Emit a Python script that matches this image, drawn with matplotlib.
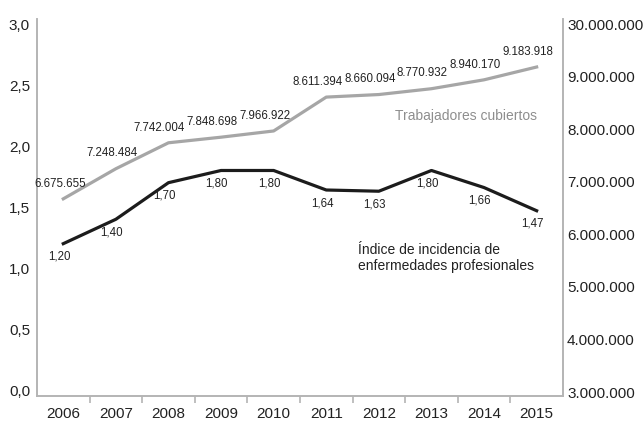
import matplotlib
matplotlib.use("Agg")
import matplotlib.pyplot as plt
from matplotlib.ticker import FixedLocator, NullLocator

plt.rcParams['font.family'] = ['Liberation Sans', 'DejaVu Sans']

years = ["2006", "2007", "2008", "2009", "2010", "2011", "2012", "2013", "2014", "2015"]
incidence = [1.20, 1.40, 1.70, 1.80, 1.80, 1.64, 1.63, 1.80, 1.66, 1.47]
workers = [6675655, 7248484, 7742004, 7848698, 7966922, 8611394, 8660094, 8770932, 8940170, 9183918]

left_ticks = [0.0, 0.5, 1.0, 1.5, 2.0, 2.5, 3.0]
left_tick_labels = ["0,0", "0,5", "1,0", "1,5", "2,0", "2,5", "3,0"]
right_ticks = [3e6, 4e6, 5e6, 6e6, 7e6, 8e6, 9e6, 10e6]
right_tick_labels = ["3.000.000", "4.000.000", "5.000.000", "6.000.000",
                     "7.000.000", "8.000.000", "9.000.000", "30.000.000"]

workers_name = "Trabajadores cubiertos"
incidence_name = "Índice de incidencia de\nenfermedades profesionales"

GRAY_LINE = "#a6a6a6"
BLACK_LINE = "#1c1c1c"
SPINE = "#b4b4b4"
TEXT = "#222222"


def fmt_es_int(v):
    return f"{v:,}".replace(",", ".")


def fmt_es_dec(v):
    return f"{v:.2f}".replace(".", ",")


fig = plt.figure(figsize=(6.43, 4.23), dpi=100)
ax = fig.add_axes([0.0575, 0.0638, 0.818, 0.891])
ax2 = ax.twinx()

x = list(range(len(years)))

ax.set_xlim(-0.5, len(years) - 0.5)
ax.set_ylim(-0.049, 3.041)
ax2.set_ylim(2.924e6, 10.095e6)

# Incidence index on the left axis
ax.plot(x, incidence, color=BLACK_LINE, lw=2.3, solid_joinstyle="round", zorder=3)
for xi, v in zip(x, incidence):
    ax.annotate(fmt_es_dec(v), (xi, v), xytext=(-3, -9.5), textcoords="offset points",
                ha="center", va="center", fontsize=8.3, color=TEXT)

# Covered workers on the right axis
ax2.plot(x, workers, color=GRAY_LINE, lw=2.3, solid_joinstyle="round", zorder=3)
for i, (xi, v) in enumerate(zip(x, workers)):
    dx = -2.5 if i < 2 else -6.5
    ax2.annotate(fmt_es_int(v), (xi, v), xytext=(dx, 11), textcoords="offset points",
                 ha="center", va="center", fontsize=8.3, color=TEXT)

# Series names
ax.text(537, 423 - 116, workers_name, transform=None, ha="right", va="center",
        fontsize=10, color="#8e8e8e")
ax.text(358, 423 - 258, incidence_name, transform=None, ha="left", va="center",
        fontsize=10, color=TEXT, linespacing=1.15)

# Axes styling
for a in (ax, ax2):
    a.spines["top"].set_visible(False)
    for s in ("left", "right", "bottom"):
        a.spines[s].set_color(SPINE)
        a.spines[s].set_linewidth(1.2)

ax.yaxis.set_major_locator(FixedLocator(left_ticks))
ax.set_yticklabels(left_tick_labels)
ax.tick_params(axis="y", length=0, pad=5, labelsize=11, labelcolor=TEXT)

ax2.yaxis.set_major_locator(FixedLocator(right_ticks))
ax2.set_yticklabels(right_tick_labels)
ax2.tick_params(axis="y", length=0, pad=3, labelsize=11, labelcolor=TEXT)

ax.set_xticks(x)
ax.set_xticklabels(years)
ax.tick_params(axis="x", which="major", length=0, pad=8, labelsize=11, labelcolor=TEXT)
ax.xaxis.set_minor_locator(FixedLocator([i + 0.5 for i in range(len(years) - 1)]))
ax.tick_params(axis="x", which="minor", length=5, width=1.2, color=SPINE, direction="out")

fig.savefig("out.png", dpi=100)
